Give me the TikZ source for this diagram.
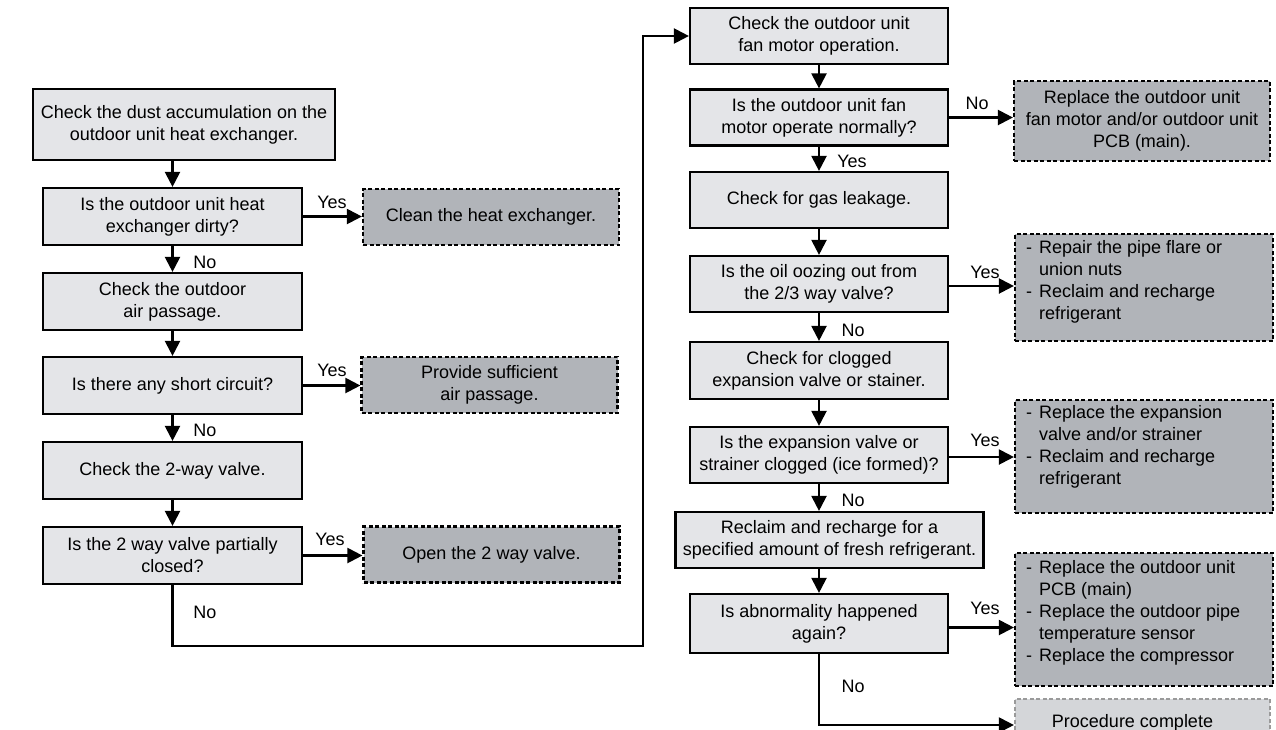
\documentclass[tikz,border=0pt]{standalone}
\usepackage{fontspec}
\setmainfont{Liberation Sans}
\usetikzlibrary{arrows.meta}
\definecolor{lightbox}{HTML}{E4E5E8}
\definecolor{darkbox}{HTML}{B1B4B9}
\definecolor{procfill}{HTML}{D4D6D9}
\definecolor{procline}{HTML}{9A9A9A}
\newcommand\dashitem{\makebox[13pt][l]{-}}
\newcommand\contitem{\hspace*{13pt}}
\begin{document}
\begin{tikzpicture}[x=1pt,y=-1pt,
  font=\fontsize{18}{22}\selectfont,
  stepbox/.style={draw=black, line width=2.2pt, fill=lightbox, align=center, inner sep=0pt, minimum width=259pt, minimum height=57pt},
  actbox/.style={draw=black, line width=2.2pt, dash pattern=on 4pt off 2.5pt, fill=darkbox, inner sep=0pt, align=center, minimum width=256pt, minimum height=56pt},
  listtext/.style={anchor=north west, align=left, inner sep=0pt},
  arr/.style={line width=2.2pt, -{Triangle[length=15pt,width=15pt]}},
  lbl/.style={inner sep=0pt}]
\useasboundingbox (0,0) rectangle (1276,729);
% left column
\node[stepbox, minimum width=302pt, minimum height=71pt] (B1) at (184,124.5) {Check the dust accumulation on the\\outdoor unit heat exchanger.};
\node[stepbox] (B2) at (172.5,216.5) {Is the outdoor unit heat\\exchanger dirty?};
\node[actbox] (A1) at (491,217) {Clean the heat exchanger.};
\node[stepbox] (B3) at (172.5,301.5) {Check the outdoor\\air passage.};
\node[stepbox] (B4) at (172.5,385.5) {Is there any short circuit?};
\node[actbox] (A2) at (489.5,385) {Provide sufficient\\air passage.};
\node[stepbox] (B5) at (172.5,470.5) {Check the 2-way valve.};
\node[stepbox] (B6) at (172.5,555.5) {Is the 2 way valve partially\\closed?};
\node[actbox] (A3) at (491.5,554.5) {Open the 2 way valve.};
% right column
\node[stepbox, minimum width=258pt, minimum height=56pt] (C1) at (819,36) {Check the outdoor unit\\fan motor operation.};
\node[stepbox, minimum width=258pt, minimum height=56pt] (C2) at (819,117.5) {Is the outdoor unit fan\\motor operate normally?};
\node[actbox, minimum height=80pt] (R1) at (1142,121) {Replace the outdoor unit\\fan motor and/or outdoor unit\\PCB (main).};
\node[stepbox, minimum width=258pt, minimum height=56pt] (C3) at (819,200) {Check for gas leakage.};
\node[stepbox, minimum width=258pt, minimum height=56pt] (C4) at (819,284) {Is the oil oozing out from\\the 2/3 way valve?};
\node[actbox, minimum width=258pt, minimum height=107pt] (R2) at (1144,287.5) {};
\node[listtext] (R2t) at ([xshift=12pt,yshift=-7pt]R2.north west) {\dashitem Repair the pipe flare or\\\contitem union nuts\\\dashitem Reclaim and recharge\\\contitem refrigerant};
\node[stepbox, minimum width=258pt, minimum height=57pt] (C5) at (819,370.5) {Check for clogged\\expansion valve or stainer.};
\node[stepbox, minimum width=258pt, minimum height=56pt] (C6) at (819,455) {Is the expansion valve or\\strainer clogged (ice formed)?};
\node[actbox, minimum width=258pt, minimum height=113pt] (R3) at (1144,456.5) {};
\node[listtext] (R3t) at ([xshift=12pt,yshift=-6pt]R3.north west) {\dashitem Replace the expansion\\\contitem valve and/or strainer\\\dashitem Reclaim and recharge\\\contitem refrigerant};
\node[stepbox, minimum width=308pt, minimum height=56pt] (C7) at (829.5,540) {Reclaim and recharge for a\\specified amount of fresh refrigerant.};
\node[stepbox, minimum width=258pt, minimum height=59pt] (C8) at (819,623.5) {Is abnormality happened\\again?};
\node[actbox, minimum width=258pt, minimum height=133pt] (R4) at (1144,619.5) {};
\node[listtext] (R4t) at ([xshift=12pt,yshift=-8pt]R4.north west) {\dashitem Replace the outdoor unit\\\contitem PCB (main)\\\dashitem Replace the outdoor pipe\\\contitem temperature sensor\\\dashitem Replace the compressor};
\node[draw=procline, line width=2.2pt, dash pattern=on 4pt off 2.5pt, fill=procfill, inner sep=0pt, minimum width=255pt, minimum height=48pt] (P) at (1142.5,723) {Procedure complete\hspace*{20pt}};
% left connectors
\draw[arr] (B1.south -| B2.north) -- (B2.north);
\draw[arr] (B2.south) -- (B3.north);
\draw[arr] (B3.south) -- (B4.north);
\draw[arr] (B4.south) -- (B5.north);
\draw[arr] (B5.south) -- (B6.north);
\draw[arr] (B2.east) -- (B2.east -| A1.west);
\draw[arr] (B4.east) -- (B4.east -| A2.west);
\draw[arr] (B6.east) -- (B6.east -| A3.west);
\node[lbl] (l1) at (332,202) {Yes};
\node[lbl] (l2) at (205,262) {No};
\node[lbl] (l3) at (332,370) {Yes};
\node[lbl] (l4) at (205,430) {No};
\node[lbl] (l5) at (330,539) {Yes};
\node[lbl] (l6) at (205,612) {No};
% loop to right column
\coordinate (L1) at (172.5,646);
\coordinate (L2) at (643,646);
\draw[arr] (B6.south) -- (L1) -- (L2) |- (C1.west);
% right connectors
\draw[arr] (C1.south) -- (C2.north);
\draw[arr] (C2.south) -- (C3.north);
\draw[arr] (C3.south) -- (C4.north);
\draw[arr] (C4.south) -- (C5.north);
\draw[arr] (C5.south) -- (C6.north);
\draw[arr] (C6.south) -- (C6.south |- C7.north);
\draw[arr] (C8.north |- C7.south) -- (C8.north);
\draw[arr] (C2.east) -- (C2.east -| R1.west);
\draw[arr] ([yshift=-2pt]C4.east) -- ([yshift=-2pt]C4.east -| R2.west);
\draw[arr] ([yshift=-2pt]C6.east) -- ([yshift=-2pt]C6.east -| R3.west);
\draw[arr] ([yshift=-4pt]C8.east) -- ([yshift=-4pt]C8.east -| R4.west);
\coordinate (F1) at (819,725);
\draw[arr] (C8.south) -- (F1) -- (F1 -| P.west);
\node[lbl] (r1) at (977,103) {No};
\node[lbl] (r2) at (852,161) {Yes};
\node[lbl] (r3) at (985,272) {Yes};
\node[lbl] (r4) at (853,330) {No};
\node[lbl] (r5) at (985,440) {Yes};
\node[lbl] (r6) at (853,500) {No};
\node[lbl] (r7) at (985,608) {Yes};
\node[lbl] (r8) at (853,686) {No};
\end{tikzpicture}
\end{document}
